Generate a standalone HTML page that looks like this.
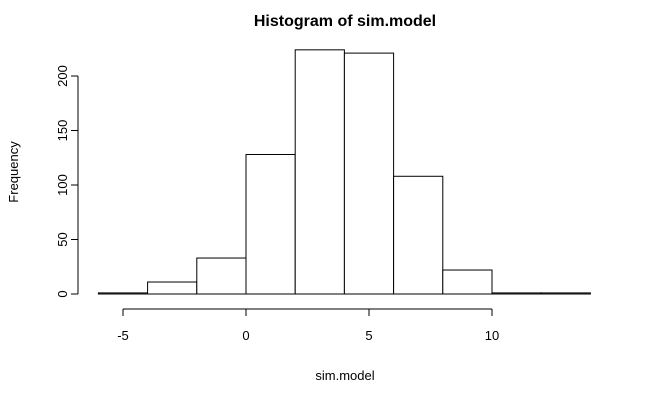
<!DOCTYPE html>
<html><head><meta charset="utf-8"><style>
body{margin:0;background:#fff}
svg{display:block;font-family:"Liberation Sans",sans-serif}
</style></head><body>
<svg id="chart" width="652" height="402">
<text x="345" y="26" text-anchor="middle" font-size="16" font-weight="bold">Histogram of sim.model</text>
<text x="345" y="380" text-anchor="middle" font-size="13">sim.model</text>
<text transform="translate(18,172) rotate(-90)" text-anchor="middle" font-size="13">Frequency</text>
<g id="bars"></g><g id="xaxis"></g><g id="yaxis"></g>
</svg>
<script>
const binStarts=[-6,-4,-2,0,2,4,6,8,10,12];
const counts=[1,11,33,128,224,221,108,22,1,1];
const binWidth=2;
const xTicks=[-5,0,5,10];
const yTicks=[0,50,100,150,200];
const ns="http://www.w3.org/2000/svg";
const xs=v=>246+v*24.6;
const ys=v=>294-v*1.09;
function mk(t,a,p){const e=document.createElementNS(ns,t);for(const k in a)e.setAttribute(k,a[k]);p.appendChild(e);return e;}
const bars=document.getElementById('bars');
binStarts.forEach((b,i)=>{
 const r=mk('rect',{x:xs(b),y:ys(counts[i]),width:xs(b+binWidth)-xs(b),height:ys(0)-ys(counts[i]),fill:'#fff',stroke:'#000','stroke-width':1},bars);
 
 
});
const xa=document.getElementById('xaxis');
const xl=mk('line',{x1:xs(xTicks[0]),x2:xs(xTicks[xTicks.length-1]),y1:309,y2:309,stroke:'#000'},xa);


xTicks.forEach(t=>{
 mk('line',{x1:xs(t),x2:xs(t),y1:309,y2:316,stroke:'#000'},xa);
 const tx=mk('text',{x:xs(t),y:340,'text-anchor':'middle','font-size':13},xa);tx.textContent=t;
 
 
});
const ya=document.getElementById('yaxis');
const yl=mk('line',{x1:78,x2:78,y1:ys(yTicks[0]),y2:ys(yTicks[yTicks.length-1]),stroke:'#000'},ya);


yTicks.forEach(t=>{
 mk('line',{x1:71,x2:78,y1:ys(t),y2:ys(t),stroke:'#000'},ya);
 const tx=mk('text',{transform:`translate(67,${ys(t)}) rotate(-90)`,'text-anchor':'middle','font-size':13},ya);tx.textContent=t;
 
 
});
</script>
</body></html>
